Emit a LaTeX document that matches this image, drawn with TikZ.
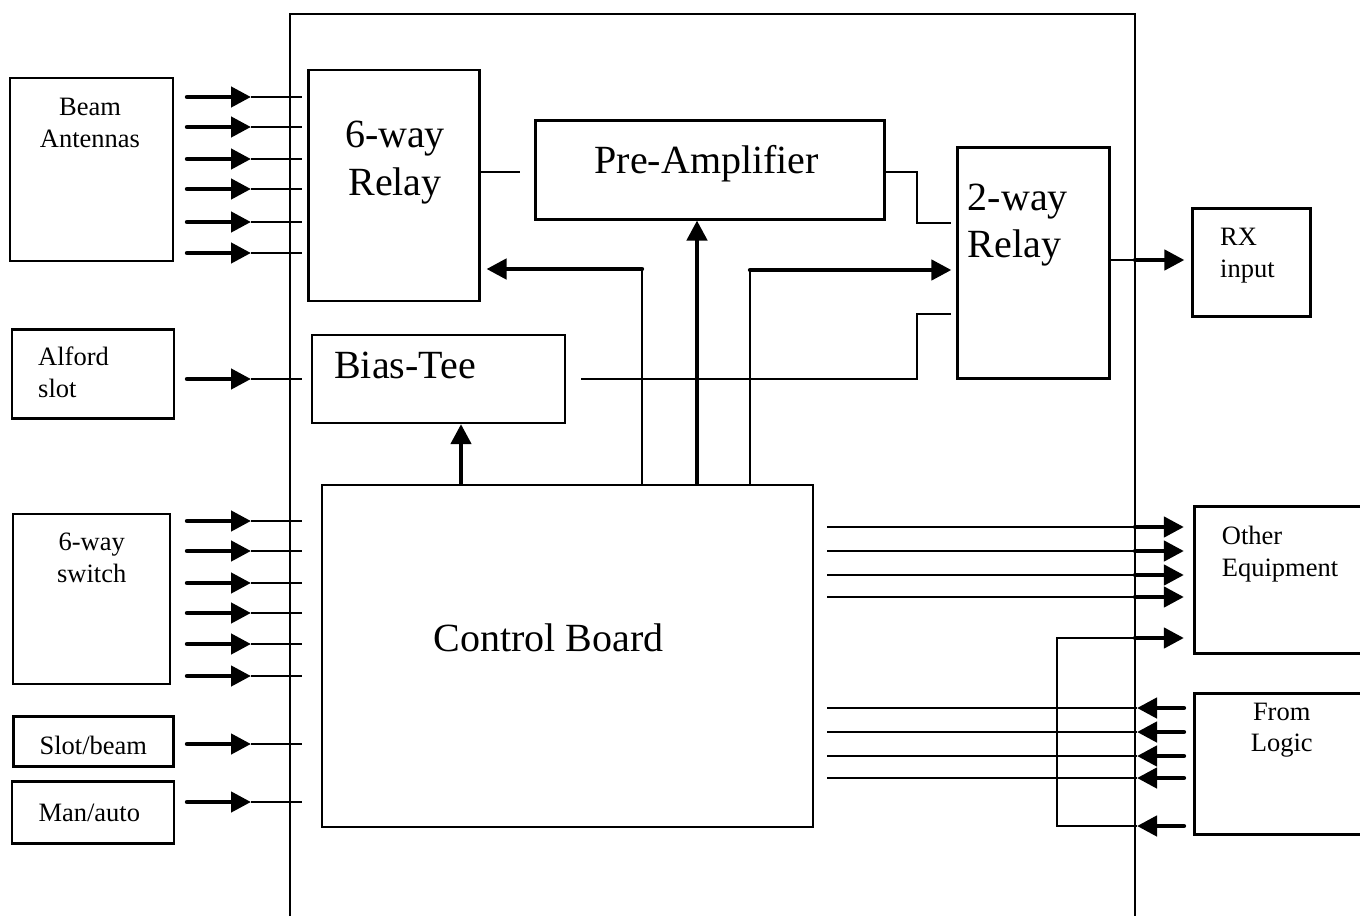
\documentclass[tikz,border=0pt]{standalone}
\usepackage{fontspec}
\setmainfont{Liberation Serif}
\usetikzlibrary{arrows.meta}

\begin{document}
\begin{tikzpicture}[
  box/.style={draw, line width=2.6pt, inner sep=0pt},
  wire/.style={line width=2.2pt},
  feed/.style={line width=4.4pt, line cap=round, -{Triangle[length=20pt,width=20pt]}},
  lbl/.style={inner sep=0pt, font=\fontsize{26.5}{31.5}\selectfont},
  biglbl/.style={inner sep=0pt, font=\fontsize{40}{47.5}\selectfont}
]
\begin{scope}[x=1pt, y=-1pt]
  \useasboundingbox (0,0) rectangle (1360,916);
  \clip (0,0) rectangle (1360,916);
  % Enclosure
  \draw[line width=2.6pt] (290,916) -- (290,14) -- (1135,14) -- (1135,916);
  % Outside boxes, left
  \node[box, minimum width=163pt, minimum height=183pt] (beam) at (91.5,169.5) {};
  \node[box, minimum width=162pt, minimum height=89pt] (alford) at (93,374) {};
  \node[box, minimum width=157pt, minimum height=170pt] (switch) at (91.5,599) {};
  \node[box, minimum width=160pt, minimum height=50pt] (slot) at (93.3,741.7) {};
  \node[box, minimum width=162pt, minimum height=62pt] (man) at (92.8,812.5) {};
  \node[lbl, align=center] (beamtxt) at (90,122.7) {Beam\\Antennas};
  \node[lbl, align=left, anchor=west] (alfordtxt) at (38,372.5) {Alford\\slot};
  \node[lbl, align=center] (switchtxt) at (91.7,557.7) {6-way\\switch};
  \node[lbl, anchor=base] (slottxt) at (93.3,754) {Slot/beam};
  \node[lbl, anchor=base] (mantxt) at (89.3,821.7) {Man/auto};
  % Inside boxes
  \node[box, minimum width=171pt, minimum height=231pt] (relay6) at (393.7,185.5) {};
  \node[box, minimum width=349pt, minimum height=99pt] (preamp) at (709.7,169.7) {};
  \node[box, minimum width=152pt, minimum height=231pt] (relay2) at (1033.7,262.8) {};
  \node[box, minimum width=253pt, minimum height=88pt] (bias) at (438.5,378.8) {};
  \node[box, minimum width=491pt, minimum height=342pt] (cb) at (567.3,655.8) {};
  \node[biglbl, align=center] (relay6txt) at (395,162.5) {6-way\\Relay};
  \node[biglbl, anchor=base] (preamptxt) at (706.7,173.5) {Pre-Amplifier};
  \node[biglbl, align=left, anchor=west] (relay2txt) at (967.7,225) {2-way\\Relay};
  \node[biglbl, anchor=base] (biastxt) at (405,378.3) {Bias-Tee};
  \node[biglbl, anchor=base] (cbtxt) at (548.5,651) {Control Board};
  % Outside boxes, right
  \node[box, minimum width=118pt, minimum height=108pt] (rx) at (1251.7,262.5) {};
  \node[box, minimum width=176pt, minimum height=147pt] (other) at (1282.2,580) {};
  \node[box, minimum width=176pt, minimum height=141pt] (logic) at (1282.2,763.8) {};
  \node[lbl, align=left, anchor=west] (rxtxt) at (1220,255.6) {RX\\input};
  \node[lbl, align=left, anchor=west] (othertxt) at (1221.7,553.9) {Other\\Equipment};
  \node[lbl, align=center] (logictxt) at (1281.7,730.3) {From\\Logic};
  % Inputs on the left
  \foreach \y in {97,127,159,189,222,253,379,521,551,583,613,644,676,744,802}{
    \draw[feed] (187,\y) -- (251,\y);
    \draw[wire] (251,\y) -- (302,\y);
  }
  % RF path
  \draw[wire] (relay6.east |- 0,172) -- (520,172);
  \draw[wire] (preamp.east |- 0,172) -- (917,172) -- (917,223) -- ([xshift=-5pt]relay2.west |- 0,223);
  \draw[wire] ([xshift=15pt]bias.east) -| (917,314) -- ([xshift=-5pt]relay2.west |- 0,314);
  \draw[wire] (relay2.east |- 0,260) -- (1135,260);
  \draw[feed] (1135,260) -- ([xshift=-7pt]rx.west |- 0,260);
  % Control lines
  \draw[feed] (cb.north -| 461,0) -- (bias.south -| 461,0);
  \draw[feed] (cb.north -| 697,0) -- (preamp.south -| 697,0);
  \draw[wire] (cb.north -| 642,0) -- (642,269);
  \draw[feed] (642,269) -- ([xshift=6pt]relay6.east |- 0,269);
  \draw[wire] (cb.north -| 750,0) -- (750,270);
  \draw[feed] (750,270) -- ([xshift=-5pt]relay2.west |- 0,270);
  % Outputs and inputs on the right
  \foreach \y in {527,551,575,597}{
    \draw[wire] ([xshift=13pt]cb.east |- 0,\y) -- (1135,\y);
    \draw[feed] (1135,\y) -- ([xshift=-9pt]other.west |- 0,\y);
  }
  \foreach \y in {708,732,756,778}{
    \draw[wire] ([xshift=13pt]cb.east |- 0,\y) -- (1137,\y);
    \draw[feed] ([xshift=-9pt]logic.west |- 0,\y) -- (1137,\y);
  }
  \draw[wire] (1135,638) -| (1057,826) -- (1137,826);
  \draw[feed] (1135,638) -- ([xshift=-9pt]other.west |- 0,638);
  \draw[feed] ([xshift=-9pt]logic.west |- 0,826) -- (1137,826);
\end{scope}
\end{tikzpicture}
\end{document}
